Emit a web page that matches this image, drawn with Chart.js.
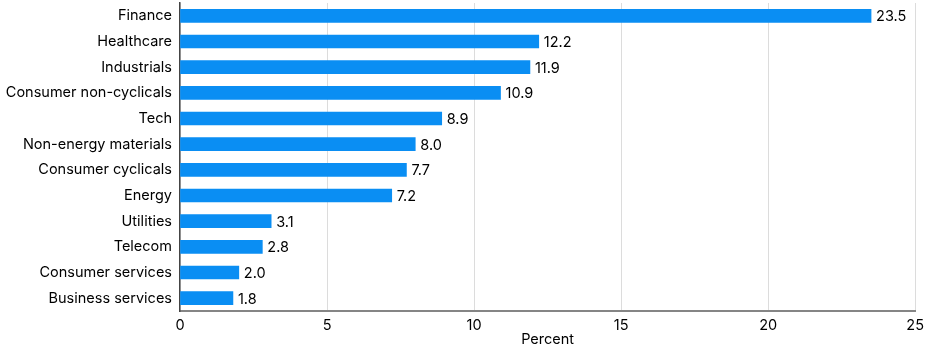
<!DOCTYPE html>
<html><head><meta charset="utf-8">
<script src="https://cdn.jsdelivr.net/npm/chart.js@4/dist/chart.umd.min.js"></script>
<style>html,body{margin:0;padding:0;background:#fff}#wrap{width:930px;height:356px}</style>
</head><body><div id="wrap"><canvas id="c" width="930" height="356"></canvas></div>
<script>
const categories = ["Finance","Healthcare","Industrials","Consumer non-cyclicals","Tech","Non-energy materials","Consumer cyclicals","Energy","Utilities","Telecom","Consumer services","Business services"];
const values = [23.5,12.2,11.9,10.9,8.9,8.0,7.7,7.2,3.1,2.8,2.0,1.8];
const xTicks = [0,5,10,15,20,25];
const axisTitle = "Percent";

const FONT = "Inter, 'Liberation Sans', sans-serif";
const FS = 14.5;
const labelPlugin = {
  id: 'barLabels',
  afterDatasetsDraw(chart) {
    const ctx = chart.ctx;
    const meta = chart.getDatasetMeta(0);
    ctx.save();
    ctx.font = FS + "px " + FONT;
    ctx.fillStyle = "#000";
    ctx.textAlign = "left";
    ctx.textBaseline = "middle";
    meta.data.forEach((bar, i) => {
      ctx.fillText(values[i].toFixed(1), bar.x + 5, bar.y + 1);
    });
    ctx.restore();
  }
};

new Chart(document.getElementById('c'), {
  type: 'bar',
  data: { labels: categories, datasets: [{ data: values, backgroundColor: '#0A8EF3', barThickness: 13, borderWidth: 0 }] },
  options: {
    indexAxis: 'y', responsive: false, animation: false,
    layout: { padding: { top: 3, right: 13, left: 0, bottom: 0 } },
    plugins: { legend: { display: false }, tooltip: { enabled: false } },
    scales: {
      x: {
        min: 0, max: 25,
        afterBuildTicks(s) { s.ticks = xTicks.map(v => ({ value: v })); },
        afterFit(s) { s.height = 45; },
        grid: { color: '#dcdcdc', drawTicks: false, lineWidth: 1 },
        border: { color: '#858585', width: 2 },
        ticks: { color: '#000', font: { family: FONT, size: FS }, padding: 6, maxRotation: 0 },
        title: { display: true, text: axisTitle, color: '#000', font: { family: FONT, size: FS }, padding: { top: 0, bottom: 8 } }
      },
      y: {
        afterFit(s) { s.width = 180; s.paddingTop = 0; s.paddingBottom = 0; },
        grid: { display: false, drawTicks: false },
        border: { color: '#444', width: 1.5 },
        ticks: { color: '#000', font: { family: FONT, size: FS }, padding: 8 }
      }
    }
  },
  plugins: [labelPlugin]
});
</script></body></html>
